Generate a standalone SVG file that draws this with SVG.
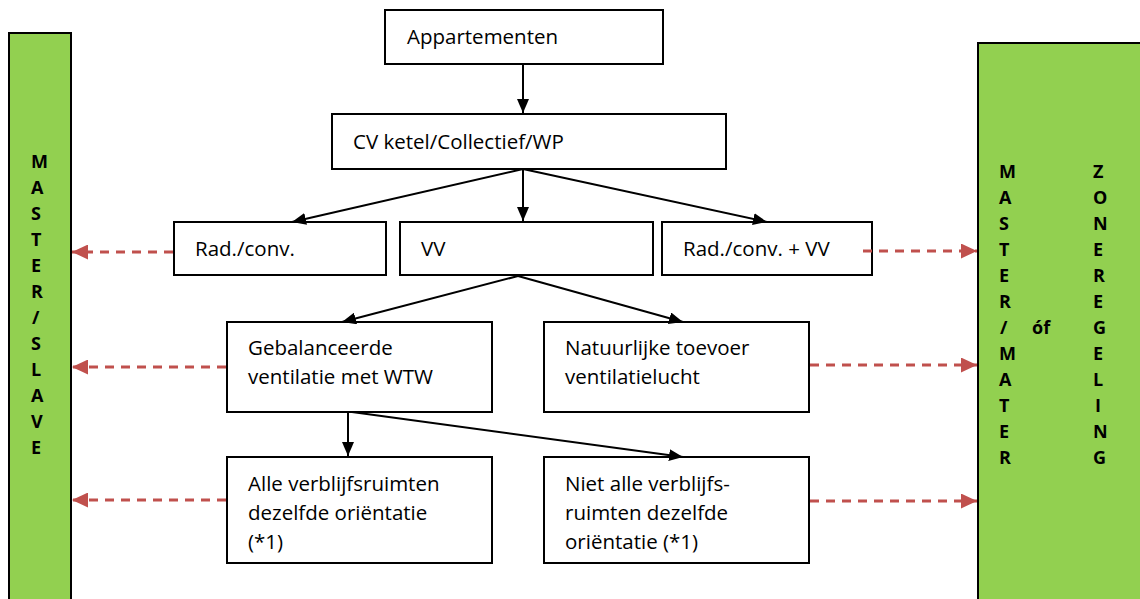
<svg xmlns="http://www.w3.org/2000/svg" width="1140" height="599" viewBox="0 0 1140 599">
  <style>
    .box { fill: #ffffff; stroke: #000000; stroke-width: 2; }
    .bar { fill: #92d050; stroke: #000000; stroke-width: 2; }
    .lbl { font-family: "Open Sans", "Liberation Sans", sans-serif; font-size: 20.5px; fill: #000000; }
    .ltr { font-family: "Open Sans", "Liberation Sans", sans-serif; font-size: 18px; font-weight: bold; fill: #000000; }
    .flow { stroke: #000000; stroke-width: 2; fill: none; marker-end: url(#ahBlack); }
    .ctrl { stroke: #c0504d; stroke-width: 3; stroke-dasharray: 9 7; fill: none; marker-end: url(#ahRed); }
  </style>
  <defs>
    <marker id="ahBlack" markerUnits="userSpaceOnUse" markerWidth="14" markerHeight="12" refX="14" refY="6" orient="auto">
      <path d="M0,0 L14,6 L0,12 z" fill="#000000"/>
    </marker>
    <marker id="ahRed" markerUnits="userSpaceOnUse" markerWidth="16" markerHeight="15" refX="16" refY="7.5" orient="auto">
      <path d="M0,0 L16,7.5 L0,15 z" fill="#c0504d"/>
    </marker>
  </defs>

  <rect width="1140" height="599" fill="#ffffff"/>

  <!-- side control bars -->
  <g id="master-slave">
    <rect class="bar" x="9" y="33" width="62" height="580"/>
    <text class="ltr" x="31">
      <tspan x="31" y="168">M</tspan>
      <tspan x="31" y="194">A</tspan>
      <tspan x="31" y="220">S</tspan>
      <tspan x="31" y="246">T</tspan>
      <tspan x="31" y="272">E</tspan>
      <tspan x="31" y="298">R</tspan>
      <tspan x="32" y="324">/</tspan>
      <tspan x="31" y="350">S</tspan>
      <tspan x="31" y="376">L</tspan>
      <tspan x="31" y="402">A</tspan>
      <tspan x="31" y="428">V</tspan>
      <tspan x="31" y="454">E</tspan>
    </text>
  </g>

  <g id="master-zone">
    <rect class="bar" x="978" y="43" width="180" height="570"/>
    <text class="ltr">
      <tspan x="999" y="178">M</tspan>
      <tspan x="999" y="204">A</tspan>
      <tspan x="999" y="230">S</tspan>
      <tspan x="999" y="256">T</tspan>
      <tspan x="999" y="282">E</tspan>
      <tspan x="999" y="308">R</tspan>
      <tspan x="1000" y="334">/</tspan>
      <tspan x="999" y="360">M</tspan>
      <tspan x="999" y="386">A</tspan>
      <tspan x="999" y="412">T</tspan>
      <tspan x="999" y="438">E</tspan>
      <tspan x="999" y="464">R</tspan>
    </text>
    <text class="ltr" x="1032" y="334">óf</text>
    <text class="ltr">
      <tspan x="1093" y="178">Z</tspan>
      <tspan x="1093" y="204">O</tspan>
      <tspan x="1093" y="230">N</tspan>
      <tspan x="1093" y="256">E</tspan>
      <tspan x="1093" y="282">R</tspan>
      <tspan x="1093" y="308">E</tspan>
      <tspan x="1093" y="334">G</tspan>
      <tspan x="1093" y="360">E</tspan>
      <tspan x="1093" y="386">L</tspan>
      <tspan x="1095" y="412">I</tspan>
      <tspan x="1093" y="438">N</tspan>
      <tspan x="1093" y="464">G</tspan>
    </text>
  </g>

  <!-- flow nodes -->
  <g id="appartementen">
    <rect class="box" x="385" y="10" width="278" height="54"/>
    <text class="lbl" x="407" y="44">Appartementen</text>
  </g>
  <g id="opwekking">
    <rect class="box" x="332" y="114" width="394" height="55"/>
    <text class="lbl" x="353" y="149">CV ketel/Collectief/WP</text>
  </g>
  <g id="rad-conv">
    <rect class="box" x="174" y="222" width="212" height="53"/>
    <text class="lbl" x="195" y="256">Rad./conv.</text>
  </g>
  <g id="vv">
    <rect class="box" x="400" y="222" width="253" height="53"/>
    <text class="lbl" x="421" y="256">VV</text>
  </g>
  <g id="rad-conv-vv">
    <rect class="box" x="662" y="222" width="210" height="53"/>
    <text class="lbl" x="683" y="256">Rad./conv. + VV</text>
  </g>
  <g id="gebalanceerd">
    <rect class="box" x="227" y="322" width="265" height="90"/>
    <text class="lbl"><tspan x="248" y="355">Gebalanceerde</tspan><tspan x="248" y="384">ventilatie met WTW</tspan></text>
  </g>
  <g id="natuurlijk">
    <rect class="box" x="544" y="322" width="265" height="90"/>
    <text class="lbl"><tspan x="565" y="355">Natuurlijke toevoer</tspan><tspan x="565" y="384">ventilatielucht</tspan></text>
  </g>
  <g id="zelfde-orientatie">
    <rect class="box" x="227" y="457" width="265" height="106"/>
    <text class="lbl"><tspan x="248" y="491">Alle verblijfsruimten</tspan><tspan x="248" y="520">dezelfde oriëntatie</tspan><tspan x="248" y="549">(*1)</tspan></text>
  </g>
  <g id="andere-orientatie">
    <rect class="box" x="544" y="457" width="265" height="106"/>
    <text class="lbl"><tspan x="565" y="491">Niet alle verblijfs-</tspan><tspan x="565" y="520">ruimten dezelfde</tspan><tspan x="565" y="549">oriëntatie (*1)</tspan></text>
  </g>

  <!-- connectors -->
  <g id="connectors">
    <line class="flow" x1="523" y1="64" x2="523" y2="113"/>
    <line class="flow" x1="523" y1="169" x2="292" y2="222"/>
    <line class="flow" x1="523" y1="169" x2="523" y2="221"/>
    <line class="flow" x1="523" y1="169" x2="767" y2="222"/>
    <line class="flow" x1="518" y1="276" x2="342" y2="322"/>
    <line class="flow" x1="518" y1="276" x2="683" y2="322"/>
    <line class="flow" x1="348" y1="412" x2="348" y2="456"/>
    <line class="flow" x1="352" y1="412" x2="683" y2="457"/>

    <line class="ctrl" x1="173" y1="252" x2="72" y2="252"/>
    <line class="ctrl" x1="226" y1="367" x2="72" y2="367"/>
    <line class="ctrl" x1="226" y1="500" x2="72" y2="500"/>
    <line class="ctrl" x1="863" y1="251" x2="977" y2="251"/>
    <line class="ctrl" x1="810" y1="365" x2="977" y2="365"/>
    <line class="ctrl" x1="810" y1="501" x2="977" y2="501"/>
  </g>
</svg>
